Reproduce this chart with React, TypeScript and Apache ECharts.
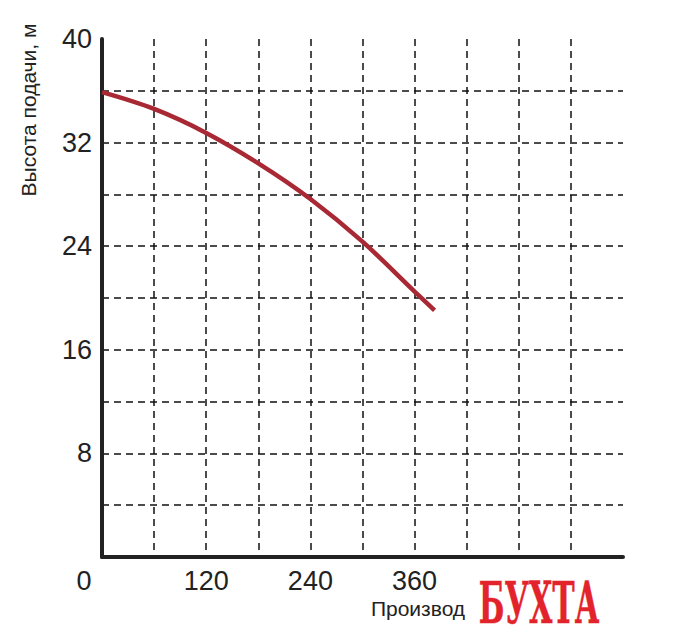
import React, { useEffect, useRef } from "react";
import * as echarts from "echarts";

const flowValues = [0, 60, 120, 180, 240, 300, 360, 383];
const headValues = [35.9, 34.6, 32.75, 30.4, 27.65, 24.35, 20.5, 19.05];
const xTickLabels = [0, 120, 240, 360];
const yTickLabels = [8, 16, 24, 32, 40];
const yAxisTitle = "Высота подачи, м";
const xAxisTitle = "Производ";
const logoText = "БУХТА";

export default function App() {
  const ref = useRef<HTMLDivElement>(null);
  useEffect(() => {
    if (!ref.current) return;
    const chart = echarts.init(ref.current, null, { renderer: "svg" });
    const font = "'Liberation Sans', Arial, sans-serif";
    const gridLine = {
      show: true,
      showMinLine: false,
      showMaxLine: false,
      lineStyle: { color: "#111", width: 1.5, type: [7, 5] as any },
    };
    chart.setOption({
      animation: false,
      backgroundColor: "#fff",
      grid: { left: 102, top: 39, width: 521, height: 518, containLabel: false },
      xAxis: {
        type: "value",
        min: 0,
        max: 600,
        interval: 60,
        axisLine: { show: true, onZero: false, lineStyle: { color: "#222", width: 4 } },
        axisTick: { show: false },
        splitLine: gridLine,
        axisLabel: {
          margin: 10,
          fontSize: 27,
          fontFamily: font,
          color: "#222",
          showMaxLabel: false,
          formatter: (v: number) =>
            xTickLabels.includes(v) ? (v === 0 ? "{z|0}" : String(v)) : "",
          rich: {
            z: { fontSize: 27, fontFamily: font, color: "#222", padding: [0, 36, 0, 0] },
          },
        },
      },
      yAxis: {
        type: "value",
        min: 0,
        max: 40,
        interval: 4,
        axisLine: { show: true, onZero: false, lineStyle: { color: "#222", width: 4 } },
        axisTick: { show: false },
        splitLine: gridLine,
        axisLabel: {
          margin: 10,
          fontSize: 27,
          fontFamily: font,
          color: "#222",
          formatter: (v: number) => (yTickLabels.includes(v) ? String(v) : ""),
        },
      },
      graphic: [
        {
          type: "text",
          x: 28,
          y: 110,
          rotation: Math.PI / 2,
          style: {
            text: yAxisTitle,
            fontSize: 21,
            fontFamily: font,
            fill: "#222",
            align: "center",
            verticalAlign: "middle",
          },
        },
        {
          type: "text",
          x: 418,
          y: 608,
          style: {
            text: xAxisTitle,
            fontSize: 21,
            fontFamily: font,
            fill: "#222",
            align: "center",
            verticalAlign: "middle",
          },
        },
        {
          type: "text",
          x: 539,
          y: 603,
          scaleX: 0.52,
          style: {
            text: logoText,
            fontSize: 58,
            fontWeight: "bold",
            fontFamily: "'DejaVu Serif', serif",
            fill: "#e3232b",
            stroke: "#f2a5a5",
            lineWidth: 1,
            align: "center",
            verticalAlign: "middle",
          },
        },
      ],
      series: [
        {
          type: "line",
          data: flowValues.map((x, i) => [x, headValues[i]]),
          smooth: 0.35,
          showSymbol: false,
          symbol: "none",
          lineStyle: { color: "#a82834", width: 4.5 },
        },
      ],
    });
    return () => chart.dispose();
  }, []);
  return (
    <div
      ref={ref}
      style={{ position: "absolute", left: 0, top: 0, width: 681, height: 640 }}
    />
  );
}
